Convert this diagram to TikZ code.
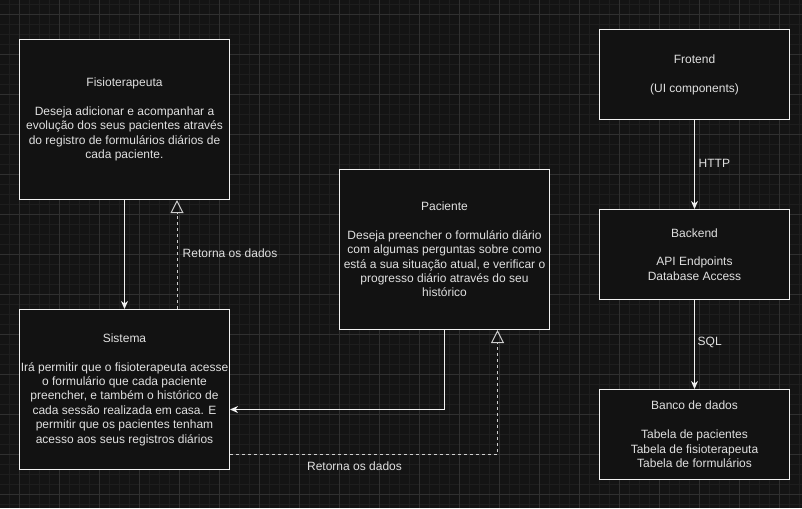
\documentclass[tikz,border=0pt]{standalone}
\usepackage{fontspec}
\setmainfont{Liberation Sans}
\usetikzlibrary{arrows.meta}
\definecolor{bgc}{HTML}{141414}
\definecolor{minorc}{HTML}{1E1E1E}
\definecolor{majorc}{HTML}{303030}
\definecolor{boxfill}{HTML}{121212}
\definecolor{txt}{HTML}{E0E0E0}
\definecolor{linec}{HTML}{F2F2F2}
\tikzset{
  box/.style={draw=linec, fill=boxfill, line width=1pt, align=center, inner sep=0pt,
    text=txt, font=\fontsize{12}{14.4}\selectfont},
  solidarrow/.style={draw=linec, line width=1pt, -{Stealth[length=8pt,width=7pt,inset=2.5pt]}},
  dasharrow/.style={draw=linec!85!black, line width=1pt, dash pattern=on 3pt off 3pt,
    -{Triangle[open,length=13pt,width=13pt,line width=1pt]}},
  lbl/.style={text=txt, font=\fontsize{12}{14.4}\selectfont, inner sep=0pt},
}
\begin{document}
\begin{tikzpicture}[x=1pt,y=-1pt]
\useasboundingbox (0,0) rectangle (802,508);
\fill[bgc] (0,0) rectangle (802,508);
% grid
\foreach \x in {9.5,19.5,...,801} {\draw[minorc, line width=1pt] (\x,0) -- (\x,508);}
\foreach \y in {4.5,14.5,...,508} {\draw[minorc, line width=1pt] (0,\y) -- (802,\y);}
\foreach \x in {19.5,59.5,...,801} {\draw[majorc, line width=1pt] (\x,0) -- (\x,508);}
\foreach \y in {14.5,54.5,...,508} {\draw[majorc, line width=1pt] (0,\y) -- (802,\y);}

% boxes
\node[box, minimum width=210pt, minimum height=160pt] (fisio) at (124.5,119.5)
  {Fisioterapeuta\\[14.4pt]Deseja adicionar e acompanhar a\\evolução dos seus pacientes através\\do registro de formulários diários de\\cada paciente.};
\node[box, minimum width=210pt, minimum height=160pt] (sis) at (124.5,389.5)
  {Sistema\\[14.4pt]Irá permitir que o fisioterapeuta acesse\\o formulário que cada paciente\\preencher, e também o histórico de\\cada sessão realizada em casa. E\\permitir que os pacientes tenham\\acesso aos seus registros diários};
\node[box, minimum width=210pt, minimum height=160pt] (pac) at (444.5,249.5)
  {Paciente\\[14.4pt]Deseja preencher o formulário diário\\com algumas perguntas sobre como\\está a sua situação atual, e verificar o\\progresso diário através do seu\\histórico};
\node[box, minimum width=190pt, minimum height=90pt] (front) at (694.5,74.5)
  {Frotend\\[14.4pt](UI components)};
\node[box, minimum width=190pt, minimum height=90pt] (back) at (694.5,254.5)
  {Backend\\[14.4pt]API Endpoints\\Database Access};
\node[box, minimum width=190pt, minimum height=90pt] (db) at (694.5,434.5)
  {Banco de dados\\[14.4pt]Tabela de pacientes\\Tabela de fisioterapeuta\\Tabela de formulários};

% connectors
\draw[solidarrow] (fisio.south) -- (sis.north);
\draw[dasharrow] ([xshift=52.5pt]sis.north) -- ([xshift=52.5pt]fisio.south);
\node[lbl, anchor=west] (l1) at (182.5,253.5) {Retorna os dados};

\draw[solidarrow] (pac.south) |- ([yshift=-20pt]sis.east);
\draw[dasharrow] ([yshift=-64.5pt]sis.east) -| ([xshift=53pt]pac.south);
\node[lbl] (l2) at (354.5,466.5) {Retorna os dados};

\draw[solidarrow] (front.south) -- (back.north);
\node[lbl, anchor=west] (l3) at (698.5,163) {HTTP};
\draw[solidarrow] (back.south) -- (db.north);
\node[lbl, anchor=west] (l4) at (697.5,342) {SQL};
\end{tikzpicture}
\end{document}
